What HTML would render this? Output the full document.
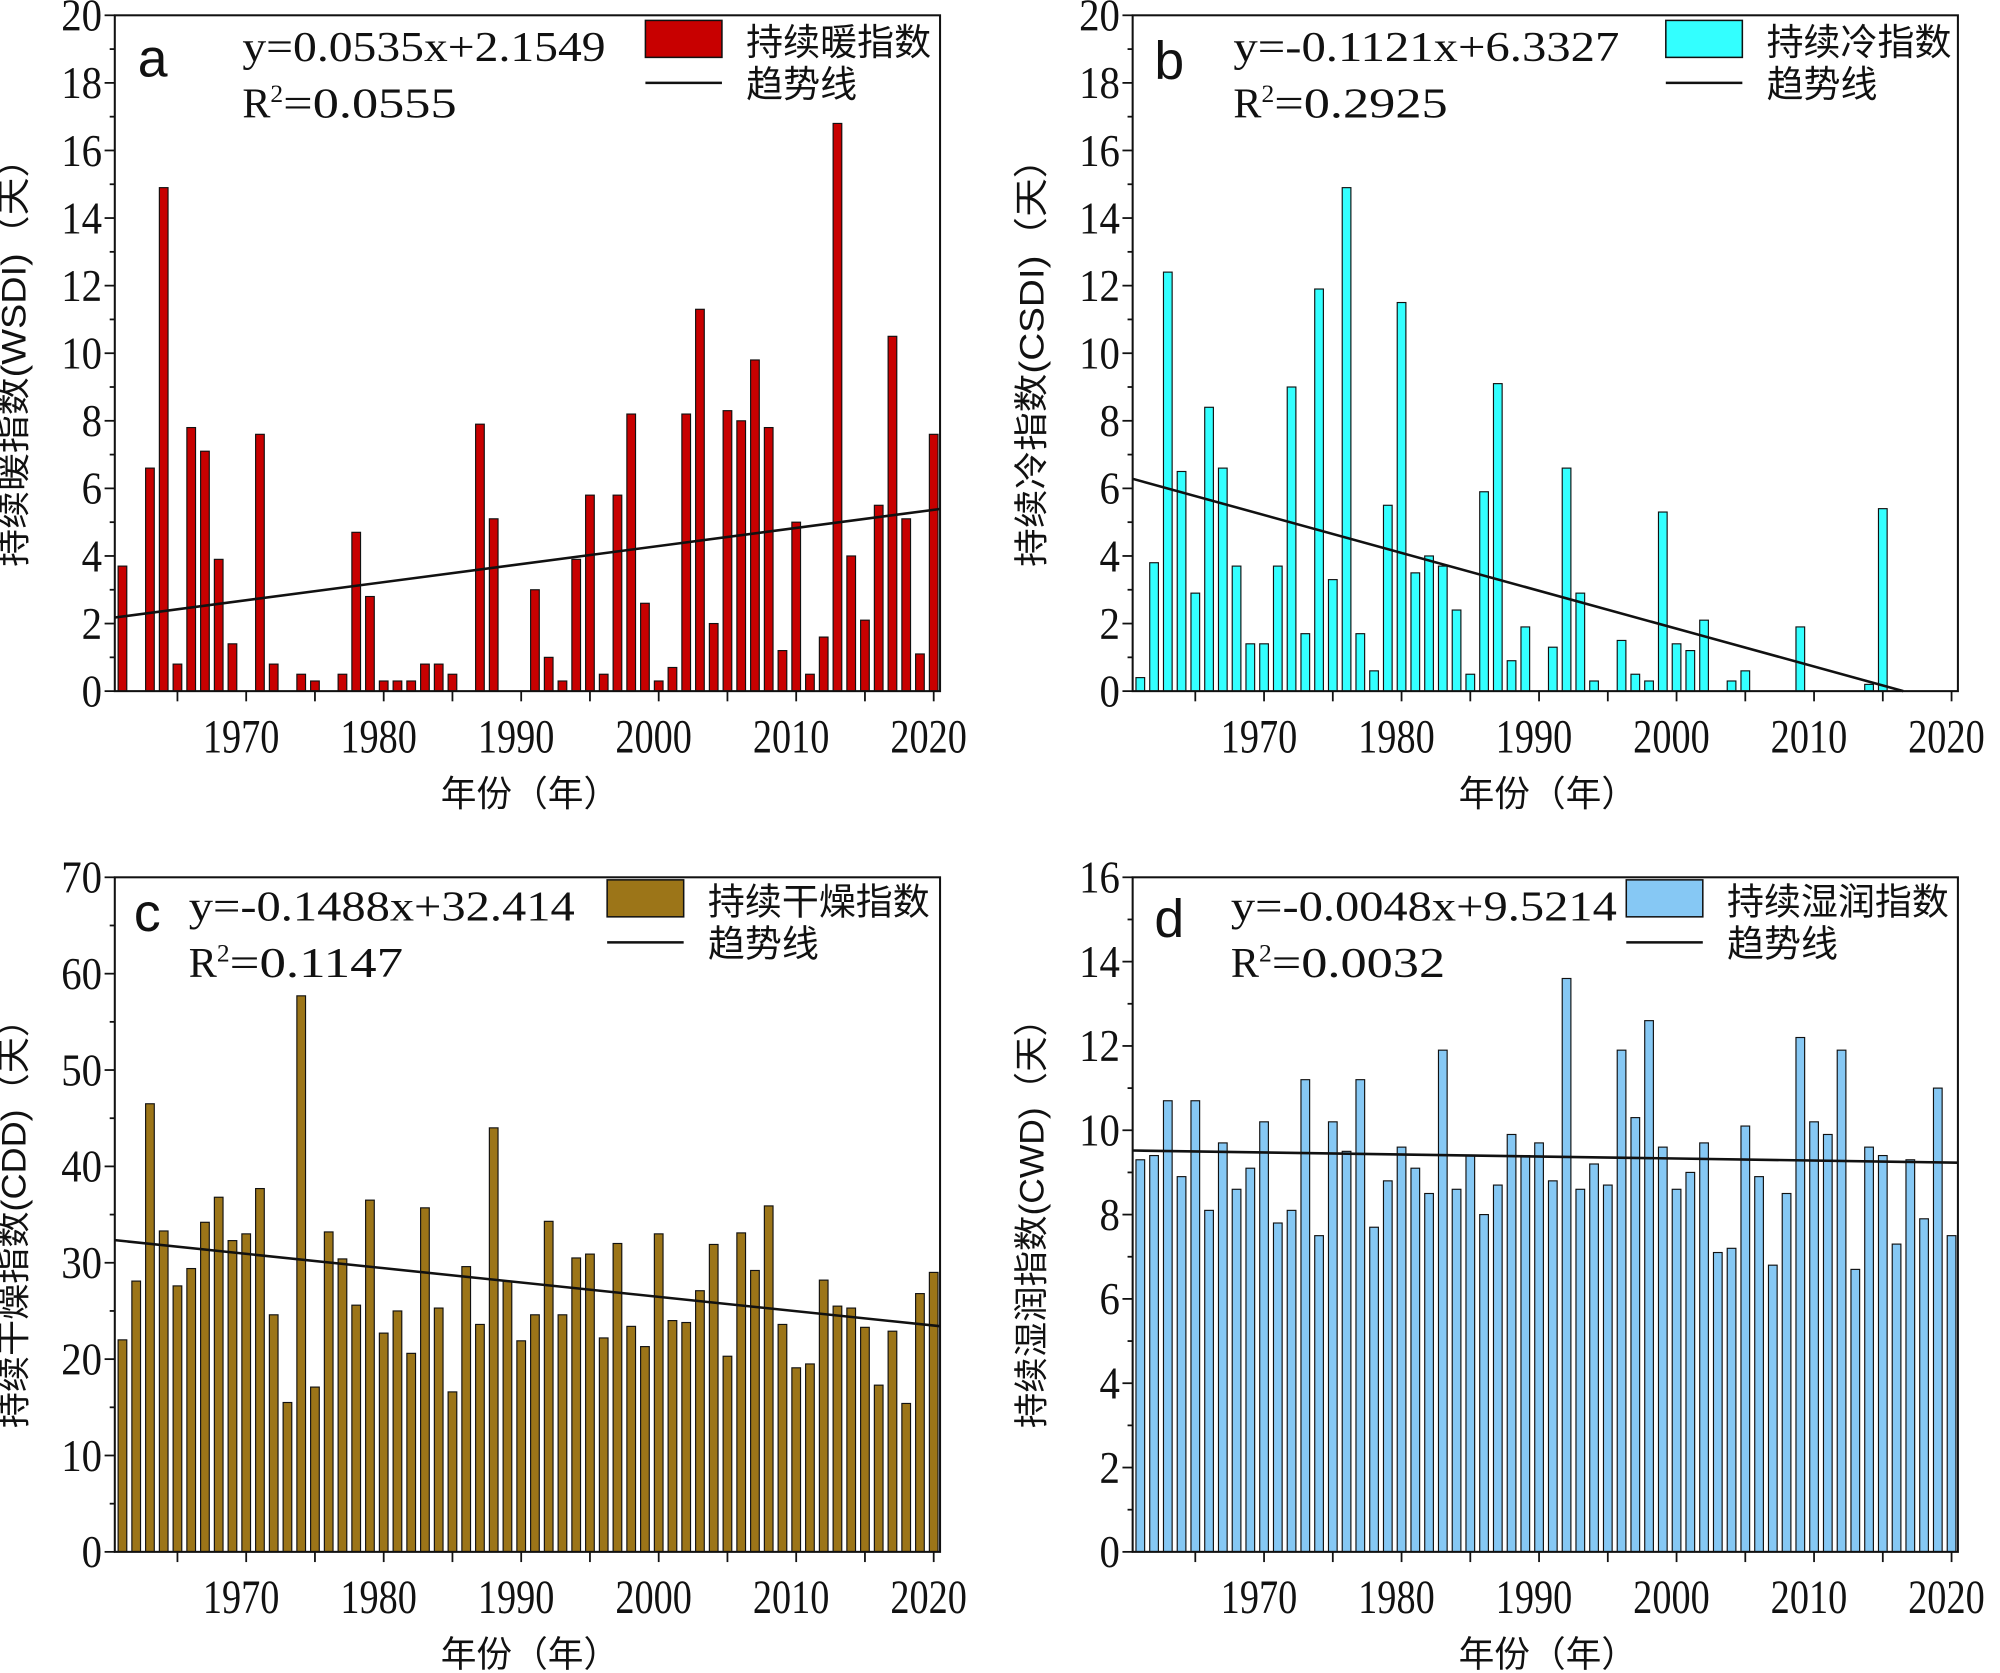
<!DOCTYPE html>
<html><head><meta charset="utf-8">
<style>
html,body{margin:0;padding:0;background:#fff;}
svg{display:block;}
text{font-family:"Liberation Serif","Noto Serif CJK SC",serif;fill:#111;}
.cjk{font-family:"Liberation Sans","Noto Sans CJK SC",sans-serif;}
</style></head>
<body>
<svg id="chart" width="2000" height="1673" viewBox="0 0 1568 1312" preserveAspectRatio="none" xmlns="http://www.w3.org/2000/svg"></svg>
<script>
const years = [];
for (let y = 1961; y <= 2020; y++) years.push(y);
const wsdi = [3.7,0,6.6,14.9,0.8,7.8,7.1,3.9,1.4,0,7.6,0.8,0,0.5,0.3,0,0.5,4.7,2.8,0.3,0.3,0.3,0.8,0.8,0.5,0,7.9,5.1,0,0,3.0,1.0,0.3,3.9,5.8,0.5,5.8,8.2,2.6,0.3,0.7,8.2,11.3,2.0,8.3,8.0,9.8,7.8,1.2,5.0,0.5,1.6,16.8,4.0,2.1,5.5,10.5,5.1,1.1,7.6];
const csdi = [0.4,3.8,12.4,6.5,2.9,8.4,6.6,3.7,1.4,1.4,3.7,9.0,1.7,11.9,3.3,14.9,1.7,0.6,5.5,11.5,3.5,4.0,3.7,2.4,0.5,5.9,9.1,0.9,1.9,0,1.3,6.6,2.9,0.3,0,1.5,0.5,0.3,5.3,1.4,1.2,2.1,0,0.3,0.6,0,0,0,1.9,0,0,0,0,0.2,5.4,0,0,0,0,0];
const cdd = [22,28.1,46.5,33.3,27.6,29.4,34.2,36.8,32.3,33.0,37.7,24.6,15.5,57.7,17.1,33.2,30.4,25.6,36.5,22.7,25.0,20.6,35.7,25.3,16.6,29.6,23.6,44.0,28.1,21.9,24.6,34.3,24.6,30.5,30.9,22.2,32.0,23.4,21.3,33.0,24.0,23.8,27.1,31.9,20.3,33.1,29.2,35.9,23.6,19.1,19.5,28.2,25.5,25.3,23.3,17.3,22.9,15.4,26.8,29.0];
const cwd = [9.3,9.4,10.7,8.9,10.7,8.1,9.7,8.6,9.1,10.2,7.8,8.1,11.2,7.5,10.2,9.5,11.2,7.7,8.8,9.6,9.1,8.5,11.9,8.6,9.4,8.0,8.7,9.9,9.4,9.7,8.8,13.6,8.6,9.2,8.7,11.9,10.3,12.6,9.6,8.6,9.0,9.7,7.1,7.2,10.1,8.9,6.8,8.5,12.2,10.2,9.9,11.9,6.7,9.6,9.4,7.3,9.3,7.9,11.0,7.5];
const xTicks = [1970,1980,1990,2000,2010,2020];
const slopes = [0.0535,-0.1121,-0.1488,-0.0048];
const intercepts = [2.1549,6.3327,32.414,9.5214];
const eqLabels = ["y=0.0535x+2.1549","y=-0.1121x+6.3327","y=-0.1488x+32.414","y=-0.0048x+9.5214"];
const r2Labels = ["0.0555","0.2925","0.1147","0.0032"];
const yMaxes = [20,20,70,16];
const yMajor = [2,2,10,2];
const yMinor = [1,1,5,1];
const names = ["持续暖指数","持续冷指数","持续干燥指数","持续湿润指数"];
const yTitles = ["持续暖指数(WSDI)（天）","持续冷指数(CSDI)（天）","持续干燥指数(CDD)（天）","持续湿润指数(CWD)（天）"];
const letters = ["a","b","c","d"];
const datasets = [wsdi, csdi, cdd, cwd];
const colors = ["#c80000","#33ffff","#9c7518","#86c8f4"];

const NS = "http://www.w3.org/2000/svg";
const svg = document.getElementById('chart');
function mk(tag, attrs, parent, txt) {
  const e = document.createElementNS(NS, tag);
  for (const k in attrs) e.setAttribute(k, attrs[k]);
  if (txt !== undefined) e.textContent = txt;
  (parent || svg).appendChild(e);
  return e;
}
const panels = [
  {L:90,R:737,T:12,B:542,eqX:190,legX:506,letX:108,letY:60,eqY:48,r2Y:92,legY:16},
  {L:888,R:1535,T:12,B:542,eqX:967,legX:1306,letX:905,letY:62,eqY:48,r2Y:92,legY:16},
  {L:90,R:737,T:688,B:1217,eqX:148,legX:476,letX:105,letY:730,eqY:722,r2Y:766,legY:690},
  {L:888,R:1535,T:688,B:1217,eqX:965,legX:1275,letX:905,letY:735,eqY:722,r2Y:766,legY:690}
];
panels.forEach((p, pi) => {
  const g = mk('g', {});
  
  
  const data = datasets[pi];
  const ymax = yMaxes[pi];
  const step = 10.78;
  const xOf = yr => p.L + 6 + (yr - 1961) * step;
  const yOf = v => p.B - Math.min(v, ymax) / ymax * (p.B - p.T);
  data.forEach((v, i) => {
    if (v <= 0) return;
    const r = mk('rect', {x: xOf(years[i]) - 3.4, y: yOf(v), width: 6.8, height: p.B - yOf(v), fill: colors[pi], stroke: '#111', 'stroke-width': 0.9}, g);
    
    
  });
  const idxL = (p.L - xOf(1961)) / step + 1, idxR = (p.R - xOf(1961)) / step + 1;
  let x2 = p.R, v2 = slopes[pi] * idxR + intercepts[pi];
  if (v2 < 0) { const iz = -intercepts[pi] / slopes[pi]; x2 = xOf(1960 + iz); v2 = 0; }
  const tl = mk('line', {x1: p.L, y1: yOf(slopes[pi] * idxL + intercepts[pi]), x2: x2, y2: yOf(v2), stroke: '#111', 'stroke-width': 2}, g);
  
  
  const fr = mk('rect', {x: p.L, y: p.T, width: p.R - p.L, height: p.B - p.T, fill: 'none', stroke: '#111', 'stroke-width': 1.6}, g);
  
  
  for (let v = 0; v <= ymax + 1e-9; v += yMinor[pi]) {
    const major = Math.abs(v / yMajor[pi] - Math.round(v / yMajor[pi])) < 1e-6;
    mk('line', {x1: p.L, x2: p.L - (major ? 8 : 4), y1: yOf(v), y2: yOf(v), stroke: '#111', 'stroke-width': 1.4}, g);
    if (major) {
      const s = String(v);
      const t = mk('text', {x: p.L - 10, y: yOf(v) + 12, 'font-size': 36, 'text-anchor': 'end', textLength: s.length * 16, lengthAdjust: 'spacingAndGlyphs'}, g, s);
      
      
    }
  }
  for (let yr = 1965; yr <= 2020; yr += 5) {
    mk('line', {x1: xOf(yr), x2: xOf(yr), y1: p.B, y2: p.B + 8, stroke: '#111', 'stroke-width': 1.4}, g);
  }
  xTicks.forEach(yr => {
    const t = mk('text', {x: xOf(yr) - 4, y: p.B + 48, 'font-size': 37, 'text-anchor': 'middle', textLength: 60, lengthAdjust: 'spacingAndGlyphs'}, g, String(yr));
    
    
  });
  const xt = mk('text', {x: (p.L + p.R) / 2 + 2, y: p.B + 90, 'font-size': 28, 'text-anchor': 'middle', class: 'cjk', fill: '#333'}, g, '年份（年）');
  
  
  const cy = (p.T + p.B) / 2 + 0, cx = p.L - 70;
  const yt = mk('text', {x: cx, y: cy, 'font-size': 27, 'text-anchor': 'middle', class: 'cjk', fill: '#333', transform: `rotate(-90 ${cx} ${cy})`, textLength: 335, lengthAdjust: 'spacingAndGlyphs'}, g, yTitles[pi]);
  
  
  const lt = mk('text', {x: p.letX, y: p.letY, 'font-size': 42, class: 'cjk'}, g, letters[pi]);
  
  
  const eq = mk('text', {x: p.eqX, y: p.eqY, 'font-size': 33, textLength: eqLabels[pi].length * 17.8, lengthAdjust: 'spacingAndGlyphs'}, g, eqLabels[pi]);
  
  
  const r2 = mk('text', {x: p.eqX, y: p.r2Y, 'font-size': 33}, g);
  
  
  mk('tspan', {}, r2, 'R');
  mk('tspan', {dy: -12, 'font-size': 20}, r2, '2');
  mk('tspan', {dy: 12, textLength: 136, lengthAdjust: 'spacingAndGlyphs'}, r2, '=' + r2Labels[pi]);
  const lg = mk('g', {}, g);
  
  
  mk('rect', {x: p.legX, y: p.legY, width: 60, height: 29, fill: colors[pi], stroke: '#111', 'stroke-width': 1.2}, lg);
  mk('text', {x: p.legX + 79, y: p.legY + 27, 'font-size': 29, class: 'cjk', fill: '#333'}, lg, names[pi]);
  mk('line', {x1: p.legX, x2: p.legX + 60, y1: p.legY + 49, y2: p.legY + 49, stroke: '#111', 'stroke-width': 2}, lg);
  mk('text', {x: p.legX + 79, y: p.legY + 60, 'font-size': 29, class: 'cjk', fill: '#333'}, lg, '趋势线');
});
</script>
</body></html>
